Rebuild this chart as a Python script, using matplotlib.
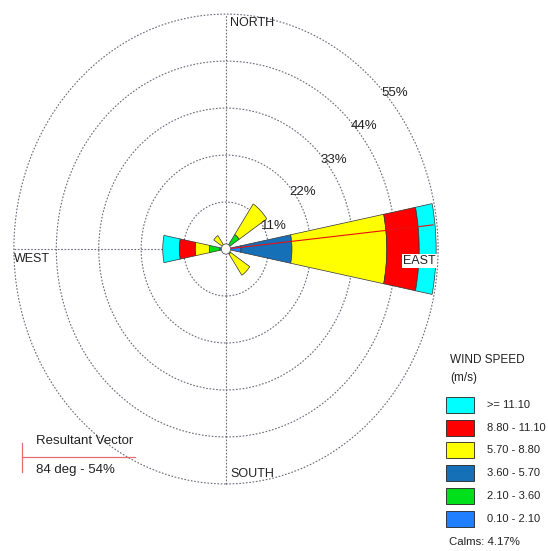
import numpy as np
import matplotlib
matplotlib.use("Agg")
import matplotlib.pyplot as plt
from matplotlib.patches import Wedge, Circle, Rectangle
from matplotlib.lines import Line2D

plt.rcParams['font.family'] = ['Liberation Sans', 'DejaVu Sans']

# sectors that have data (bearing in degrees, clockwise from north)
directions = ['EAST', 'WEST', 'NE', 'SE', 'NW']
bearings = [90, 270, 45, 135, 315]

# frequency (%) per speed class, innermost class first
speed_labels = ['0.10 - 2.10', '2.10 - 3.60', '3.60 - 5.70', '5.70 - 8.80', '8.80 - 11.10', '>= 11.10']
speed_colors = ['#1f7fff', '#00e01a', '#1670b8', '#ffff00', '#ff0000', '#00ffff']
freq_e = [3.9, 0.0, 13.2, 24.6, 8.4, 4.4]
freq_w = [1.6, 2.7, 0.0, 3.7, 4.1, 4.3]
freq_ne = [1.2, 2.9, 0.0, 8.6, 0.0, 0.0]
freq_se = [0.7, 0.7, 0.0, 6.0, 0.0, 0.0]
freq_nw = [0.6, 0.6, 0.0, 2.6, 0.0, 0.0]
freqs = [freq_e, freq_w, freq_ne, freq_se, freq_nw]

rings = [11, 22, 33, 44, 55]
ring_labels = ['11%', '22%', '33%', '44%', '55%']
calms = 4.17
resultant_dir = 84
resultant_pct = 54

W, H = 548, 551
fig = plt.figure(figsize=(W / 100, H / 100), dpi=100)
ax = fig.add_axes([0, 0, 1, 1])
ax.set_xlim(-58.6, 83.5)
ax.set_ylim(-70.7, 58.3)
ax.axis('off')

def fpos(x, y):
    return x / W, 1 - y / H

# grid rings and spokes
for r in rings:
    ax.add_patch(Circle((0, 0), r, fill=False, ls=(0, (1.5, 1.5)), lw=0.8, ec='#6a6a7a', zorder=1))
ax.plot([0, 0], [-55, 55], ls=(0, (1.5, 1.5)), lw=0.8, color='#6a6a7a', zorder=1)
ax.plot([-55, 55], [0, 0], ls=(0, (1.5, 1.5)), lw=0.8, color='#6a6a7a', zorder=1)

# stacked wedges
for b, fr in zip(bearings, freqs):
    theta = 90 - b
    inner = 0.0
    for val, col in zip(fr, speed_colors):
        if val <= 0:
            continue
        outer = inner + val
        ax.add_patch(Wedge((0, 0), outer, theta - 11.25, theta + 11.25, width=val,
                           fc=col, ec='#333333', lw=0.5, zorder=3))
        inner = outer

# resultant vector
rx = resultant_pct * np.sin(np.radians(resultant_dir))
ry = resultant_pct * np.cos(np.radians(resultant_dir))
ax.plot([0, rx], [0, ry], color='#e81010', lw=0.8, zorder=4)

# calms circle
ax.add_patch(Circle((0, 0), 1.2, fc='white', ec='#555555', lw=0.6, zorder=5))

txt = dict(transform=fig.transFigure, color='#222222')

# compass labels
fig.text(*fpos(230, 23), 'NORTH', ha='left', va='center', fontsize=9, **txt)
fig.text(*fpos(230, 474), 'SOUTH', ha='left', va='center', fontsize=9, **txt)
fig.text(*fpos(14, 259), 'WEST', ha='left', va='center', fontsize=9, **txt)
fig.text(*fpos(403, 261), 'EAST', ha='left', va='center', fontsize=9, zorder=6,
         bbox=dict(fc='white', ec='none', pad=1), **txt)

# ring labels
ring_pos = [(274, 226), (303, 192), (334, 160), (364, 126), (395, 93)]
for lab, (x, y) in zip(ring_labels, ring_pos):
    fig.text(*fpos(x, y), lab, ha='center', va='center', fontsize=9.5, **txt)

# legend
fig.text(*fpos(450, 360), 'WIND SPEED', ha='left', va='center', fontsize=8.5, **txt)
fig.text(*fpos(450, 378), '(m/s)', ha='left', va='center', fontsize=8.5, **txt)
row_tops = [397, 420, 442, 465, 488, 511]
for top, lab, col in zip(row_tops, speed_labels[::-1], speed_colors[::-1]):
    x0, y0 = fpos(446, top + 16)
    fig.patches.append(Rectangle((x0, y0), 28 / W, 16 / H, transform=fig.transFigure,
                                 fc=col, ec='#222222', lw=0.6))
    fig.text(*fpos(487, top + 8), lab, ha='left', va='center', fontsize=8, **txt)
fig.text(*fpos(449, 542), 'Calms: %.2f%%' % calms, ha='left', va='center', fontsize=8.2, **txt)

# resultant vector legend
fig.text(*fpos(36, 441), 'Resultant Vector', ha='left', va='center', fontsize=9.5, **txt)
fig.text(*fpos(36, 470), '%d deg - %d%%' % (resultant_dir, resultant_pct),
         ha='left', va='center', fontsize=9.5, **txt)
fig.lines.append(Line2D([22 / W, 135 / W], [1 - 457 / H, 1 - 457 / H],
                        transform=fig.transFigure, color='#e07070', lw=0.9))
fig.lines.append(Line2D([22 / W, 22 / W], [1 - 443 / H, 1 - 472 / H],
                        transform=fig.transFigure, color='#e07070', lw=0.9))

fig.savefig('out.png', dpi=100)
